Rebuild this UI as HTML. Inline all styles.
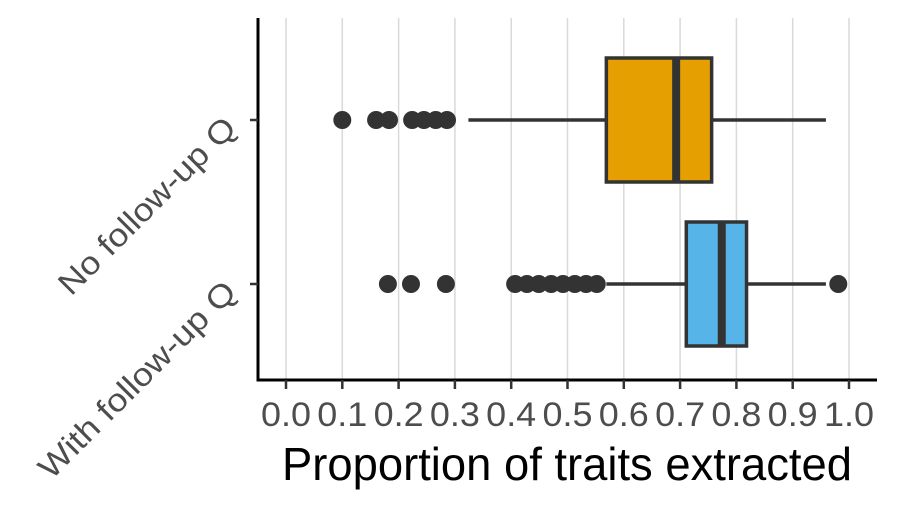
<!DOCTYPE html>
<html><head><meta charset="utf-8"><style>
html,body{margin:0;padding:0;background:#fff;}
svg{display:block;font-family:"Liberation Sans",Arial,sans-serif;}
</style></head><body>
<svg id="chart" width="900" height="510" viewBox="0 0 900 510" xmlns="http://www.w3.org/2000/svg">
<g id="grid"></g>
<g id="boxes"></g>
<g id="axes"></g>
</svg>
<script>
const categories = ["No follow-up Q", "With follow-up Q"];
const colors = ["#E69F00", "#56B4E9"];
const q1 = [0.569, 0.711];
const median = [0.693, 0.774];
const q3 = [0.756, 0.818];
const whiskerLow = [0.324, 0.569];
const whiskerHigh = [0.959, 0.959];
const outliersNo = [0.100, 0.160, 0.183, 0.224, 0.245, 0.266, 0.286];
const outliersWith = [0.181, 0.222, 0.284, 0.407, 0.428, 0.449, 0.471, 0.492, 0.513, 0.533, 0.552, 0.981];
const outliers = [outliersNo, outliersWith];
const ticks = [0,0.1,0.2,0.3,0.4,0.5,0.6,0.7,0.8,0.9,1.0];
const tickLabels = ["0.0","0.1","0.2","0.3","0.4","0.5","0.6","0.7","0.8","0.9","1.0"];

const NS="http://www.w3.org/2000/svg";
const x = v => 286 + v*563;
const yC = i => 120 + i*164;
const halfH = 62;
function mk(tag, attrs, parent){const e=document.createElementNS(NS,tag);for(const k in attrs)e.setAttribute(k,attrs[k]);parent.appendChild(e);return e;}
const grid=document.getElementById('grid'), boxes=document.getElementById('boxes'), axes=document.getElementById('axes');

ticks.forEach((t,i)=>{
  const l=mk('line',{x1:x(t),x2:x(t),y1:18,y2:380,stroke:'#d9d9d9','stroke-width':1.5},grid);
  
  
});

categories.forEach((c,i)=>{
  const cy=yC(i);
  const g=mk('g',{},boxes);
  
  
  mk('line',{x1:x(whiskerLow[i]),x2:x(q1[i]),y1:cy,y2:cy,stroke:'#333','stroke-width':3.5},g);
  mk('line',{x1:x(q3[i]),x2:x(whiskerHigh[i]),y1:cy,y2:cy,stroke:'#333','stroke-width':3.5},g);
  const r=mk('rect',{x:x(q1[i]),y:cy-halfH,width:x(q3[i])-x(q1[i]),height:2*halfH,fill:colors[i],stroke:'#333','stroke-width':3.5},g);
  
  
  const m=mk('line',{x1:x(median[i]),x2:x(median[i]),y1:cy-halfH,y2:cy+halfH,stroke:'#333','stroke-width':8},g);
  
  
  outliers[i].forEach(v=>{
    const p=mk('circle',{cx:x(v),cy:cy,r:9,fill:'#333'},g);
    
    
  });
});

const yLens=[236,264];
mk('line',{x1:258,x2:258,y1:18,y2:381.5,stroke:'#000','stroke-width':3},axes);
mk('line',{x1:256.5,x2:877,y1:380,y2:380,stroke:'#000','stroke-width':3},axes);
categories.forEach((c,i)=>{
  mk('line',{x1:250,x2:258,y1:yC(i),y2:yC(i),stroke:'#333','stroke-width':2.5},axes);
  const t=mk('text',{x:0,y:0,'font-size':32,fill:'#4d4d4d','text-anchor':'end',textLength:yLens[i],lengthAdjust:'spacingAndGlyphs',transform:`translate(238,${yC(i)+10}) rotate(-45)`},axes);
  t.textContent=c;
  
  
});
ticks.forEach((t,i)=>{
  mk('line',{x1:x(t),x2:x(t),y1:380,y2:389,stroke:'#333','stroke-width':2.5},axes);
  const l=mk('text',{x:x(t),y:426,'font-size':34,fill:'#4d4d4d','text-anchor':'middle',textLength:50,lengthAdjust:'spacingAndGlyphs'},axes);
  l.textContent=tickLabels[i];
  
  
});
const title=mk('text',{x:567,y:480,'font-size':46,fill:'#000','text-anchor':'middle',textLength:570,lengthAdjust:'spacingAndGlyphs'},axes);
title.textContent='Proportion of traits extracted';


</script>
</body></html>
